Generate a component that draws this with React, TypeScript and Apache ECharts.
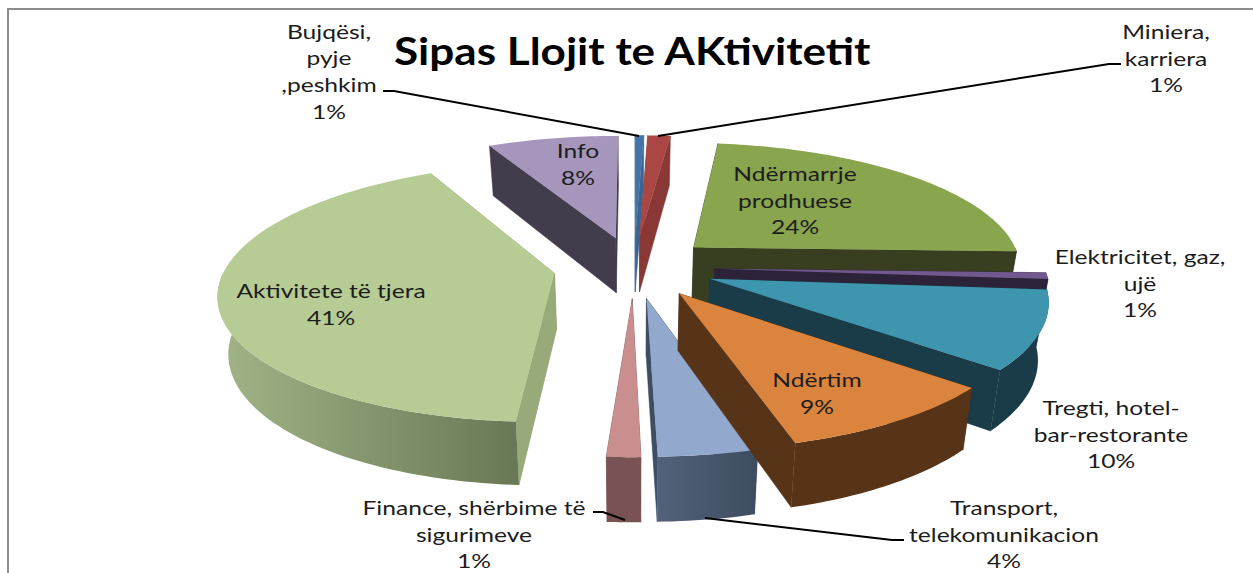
import React, { useEffect, useRef } from "react";
import * as echarts from "echarts";

const TITLE = "Sipas Llojit te AKtivitetit";
const CATEGORIES = [
  "Bujqësi,\npyje\n,peshkim",
  "Miniera,\nkarriera",
  "Ndërmarrje\nprodhuese",
  "Elektricitet, gaz,\nujë",
  "Tregti, hotel-\nbar-restorante",
  "Ndërtim",
  "Transport,\ntelekomunikacion",
  "Finance, shërbime të\nsigurimeve",
  "Aktivitete të tjera",
  "Info",
];
const VALUES = [0.5, 1.3, 23.7, 0.8, 9.8, 9.49, 4.05, 1.38, 41.47, 7.51];

const TOP_COLORS = ["#4572A7", "#AA4643", "#89A54E", "#71588F", "#3D96AE", "#DB843D", "#92A8CD", "#CB8E8E", "#B7CC94", "#A696BC"];
const WALL_COLORS = ["#3A6491", "#8A3836", "#383F20", "#2D2339", "#193C48", "#573318", "#3D4D62", "#795353", "#98A97A", "#423C4C"];
const OUTER_GRADIENTS: Record<number, [string, string]> = {
  6: ["#52627A", "#3E4C60"],
  8: ["#A2B487", "#687855"],
};
// painter's order: back to front
const DRAW_ORDER = [9, 0, 1, 8, 2, 3, 4, 6, 5, 7];

const LABEL_POS: [number, number][] = [
  [329, 71], [1166, 58], [795, 200], [1140, 283], [1111, 434],
  [817, 393], [1004, 534], [474, 534], [331, 304], [578, 164],
];
const LEADERS: [number, number][][] = [
  [[383, 91], [394, 91], [639, 136]],
  [[1121, 64], [1109, 64], [658, 136]],
  [[593, 512], [603, 512], [625, 520]],
  [[904, 540], [892, 540], [705, 518]],
];

// projection of the exploded, tilted disc
const CX = 634, CY = 267, RX = 329, RY = 125, PERSP = 0.146, EXPLODE = 0.245, DEPTH = 56, BASE_SHRINK = 0.974;
const FONT = "Lato, Carlito, 'Open Sans', sans-serif";

const total = VALUES.reduce((a, b) => a + b, 0);
const spans: [number, number][] = [];
{
  let acc = 0;
  for (const v of VALUES) {
    const s = (acc / total) * 2 * Math.PI;
    acc += v;
    spans.push([s, (acc / total) * 2 * Math.PI]);
  }
}

function topPt(i: number, r: number, a: number) {
  const [s, e] = spans[i];
  const b = (s + e) / 2;
  const u = EXPLODE * Math.sin(b) + r * Math.sin(a);
  const v = EXPLODE * Math.cos(b) + r * Math.cos(a);
  const w = 1 / (1 + PERSP * v);
  return { x: CX + RX * u * w, y: CY - RY * v * w, w };
}
function top(i: number, r: number, a: number): number[] {
  const p = topPt(i, r, a);
  return [p.x, p.y];
}
function bottom(i: number, r: number, a: number): number[] {
  const p = topPt(i, r, a);
  return [CX + (p.x - CX) * BASE_SHRINK, p.y + DEPTH * Math.pow(p.w, 0.75)];
}
function arcAngles(a0: number, a1: number): number[] {
  const n = Math.max(2, Math.ceil(Math.abs(a1 - a0) / 0.02));
  return Array.from({ length: n + 1 }, (_, k) => a0 + ((a1 - a0) * k) / n);
}

function renderSlice(_params: any, api: any) {
  const i = api.value(0) as number;
  const [s, e] = spans[i];
  const wall = WALL_COLORS[i];
  const children: any[] = [];
  for (const a of [s, e]) {
    children.push({
      type: "polygon",
      shape: { points: [top(i, 0, a), top(i, 1, a), bottom(i, 1, a), bottom(i, 0, a)] },
      style: { fill: wall, stroke: wall, lineWidth: 0.5 },
    });
  }
  const fs = Math.max(s, Math.PI / 2);
  const fe = Math.min(e, (3 * Math.PI) / 2);
  if (fe > fs) {
    const as = arcAngles(fs, fe);
    const pts = [...as.map((a) => top(i, 1, a)), ...as.slice().reverse().map((a) => bottom(i, 1, a))];
    const g = OUTER_GRADIENTS[i];
    const fill = g
      ? new echarts.graphic.LinearGradient(0, 0, 1, 0, [
          { offset: 0, color: g[0] },
          { offset: 1, color: g[1] },
        ])
      : wall;
    children.push({ type: "polygon", shape: { points: pts }, style: { fill } });
    if (i === 8) {
      // keep the end wall over the shaded front wall
      children.push({
        type: "polygon",
        shape: { points: [top(i, 0, s), top(i, 1, s), bottom(i, 1, s), bottom(i, 0, s)] },
        style: { fill: wall },
      });
    }
  }
  const topPts = [top(i, 0, s), ...arcAngles(s, e).map((a) => top(i, 1, a))];
  children.push({ type: "polygon", shape: { points: topPts }, style: { fill: TOP_COLORS[i] } });
  return { type: "group", children };
}

export default function App() {
  const ref = useRef<HTMLDivElement>(null);
  useEffect(() => {
    const chart = echarts.init(ref.current!, undefined, { renderer: "svg" });
    chart.setOption({
      animation: false,
      backgroundColor: "#fff",
      series: [
        {
          type: "custom",
          coordinateSystem: "none",
          silent: true,
          renderItem: renderSlice,
          data: DRAW_ORDER.map((i) => [i, VALUES[i]]),
        },
      ],
      graphic: [
        { type: "polyline", z: 5, shape: { points: [[8, 574], [8, 9], [1253, 9]] }, style: { stroke: "#8c8c8c", lineWidth: 2, fill: "none" } },
        {
          type: "text",
          z: 30,
          x: 394,
          y: 50,
          scaleX: 1.16,
          style: {
            text: TITLE,
            fontFamily: FONT,
            fontSize: 38,
            fontWeight: "bold",
            align: "left",
            verticalAlign: "middle",
            fill: "#000",
          },
        },
        ...LEADERS.map((points) => ({
          type: "polyline",
          z: 20,
          shape: { points },
          style: { stroke: "#000", lineWidth: 2, fill: "none" },
        })),
        ...CATEGORIES.map((name, i) => ({
          type: "text",
          z: 30,
          x: LABEL_POS[i][0],
          y: LABEL_POS[i][1],
          scaleX: 1.23,
          style: {
            text: `${name}\n${Math.round(VALUES[i])}%`,
            fontFamily: FONT,
            fontSize: 20,
            lineHeight: 26.7,
            align: "center",
            verticalAlign: "middle",
            fill: "#1c1c1c",
          },
        })),
      ],
    });
    return () => chart.dispose();
  }, []);
  return <div ref={ref} style={{ position: "absolute", left: 0, top: 0, width: 1253, height: 573 }} />;
}
